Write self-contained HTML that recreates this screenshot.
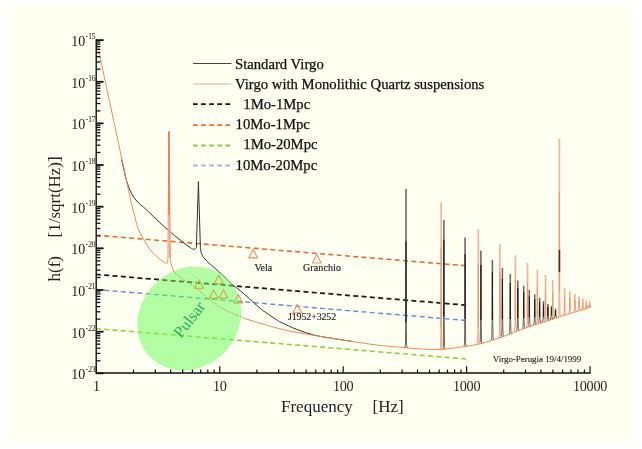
<!DOCTYPE html>
<html><head><meta charset="utf-8"><style>
html,body{margin:0;padding:0;background:#fff;width:642px;height:449px;overflow:hidden;}
svg{display:block;will-change:transform;}
</style></head><body>
<svg width="642" height="449" viewBox="0 0 642 449" xml:space="preserve">
<rect x="0" y="0" width="642" height="449" fill="#ffffff"/>
<rect x="7" y="5" width="626" height="437.5" fill="#fffff2"/>
<line x1="96" y1="274.4" x2="466.5" y2="305.2" stroke="#1a1a1a" stroke-width="1.75" stroke-dasharray="5 3.33" stroke-dashoffset="0.1"/>
<line x1="96" y1="235.2" x2="466.5" y2="265.8" stroke="#e26a36" stroke-width="1.55" stroke-dasharray="5 3.33" stroke-dashoffset="0.1"/>
<line x1="96" y1="328.6" x2="466.5" y2="359.0" stroke="#8ad23c" stroke-width="1.55" stroke-dasharray="5 3.33" stroke-dashoffset="0.1"/>
<line x1="96" y1="289.5" x2="466.5" y2="320.5" stroke="#5a8ee0" stroke-width="1.4" stroke-dasharray="5 3.33" stroke-dashoffset="0.1"/>
<path d="M121.6,159.5 C122.0,161.4 123.5,168.0 124.2,171.0 C124.9,174.0 125.0,175.4 125.6,177.5 C126.1,179.6 126.8,181.5 127.5,183.5 C128.2,185.5 128.9,187.5 129.8,189.6 C130.7,191.7 131.7,194.1 132.9,196.0 C134.1,197.9 135.5,199.5 136.8,201.0 C138.2,202.5 139.4,203.8 141.0,205.2 C142.6,206.6 143.8,207.3 146.2,209.5 C148.6,211.7 152.4,215.6 155.5,218.5 C158.6,221.4 161.6,224.4 164.8,227.2 C168.0,230.0 171.6,233.0 174.6,235.5 C177.6,238.0 180.6,240.4 183.0,242.3 C185.4,244.2 187.2,245.5 189.0,246.7 C190.8,247.9 192.5,249.2 193.7,249.3 C194.9,249.5 195.9,247.9 196.4,247.6" fill="none" stroke="#333" stroke-width="1"/>
<path d="M196.4,247.6 L198.4,181.5 L200.4,247.6" fill="none" stroke="#333" stroke-width="1"/>
<path d="M200.4,247.6 C200.5,248.4 200.8,251.2 201.2,252.7 C201.6,254.2 202.0,255.2 203.0,256.7 C204.0,258.1 205.7,259.9 207.1,261.4 C208.5,262.8 209.8,263.7 211.7,265.4 C213.6,267.1 216.2,269.4 218.4,271.4 C220.6,273.4 222.9,275.4 225.1,277.5 C227.3,279.6 229.2,282.1 231.8,284.3 C234.4,286.6 236.2,287.2 240.7,291.0 C245.1,294.8 254.3,303.3 258.5,306.9 C262.6,310.5 262.6,310.3 265.6,312.4 C268.6,314.5 273.7,317.9 276.3,319.6 C278.9,321.3 277.8,320.8 281.2,322.4 C284.6,324.0 291.5,327.4 296.7,329.4 C301.9,331.4 307.1,333.2 312.3,334.6 C317.5,336.0 325.3,337.3 327.9,337.8" fill="none" stroke="#333" stroke-width="1"/>
<path d="M327.9,337.6 C329.9,337.9 335.8,338.9 340.0,339.6 C344.2,340.3 351.2,341.3 353.4,341.6" fill="none" stroke="#333" stroke-width="1"/>
<path d="M404.70,348.09 L405.40,345.29 L405.70,322.37 L406.00,241.33 L406.30,322.37 L406.60,345.29 L407.30,348.09" fill="none" stroke="#666660" stroke-width="1.0" stroke-linejoin="round"/>
<line x1="406.00" y1="322.4" x2="406.00" y2="241.3" stroke="#1e1e1e" stroke-width="1.3"/>
<line x1="406.00" y1="188.9" x2="406.00" y2="241.3" stroke="#6a6a66" stroke-width="1.6"/>
<path d="M442.60,349.34 L443.30,346.54 L443.60,316.78 L443.90,239.36 L444.20,316.78 L444.50,346.54 L445.20,349.34" fill="none" stroke="#666660" stroke-width="1.0" stroke-linejoin="round"/>
<line x1="443.90" y1="316.8" x2="443.90" y2="239.4" stroke="#1e1e1e" stroke-width="1.3"/>
<line x1="443.90" y1="220.0" x2="443.90" y2="239.4" stroke="#6a6a66" stroke-width="1.6"/>
<path d="M463.80,346.60 L464.50,343.80 L464.80,319.10 L465.10,253.82 L465.40,319.10 L465.70,343.80 L466.40,346.60" fill="none" stroke="#666660" stroke-width="1.0" stroke-linejoin="round"/>
<line x1="465.10" y1="319.1" x2="465.10" y2="253.8" stroke="#1e1e1e" stroke-width="1.3"/>
<line x1="465.10" y1="237.5" x2="465.10" y2="253.8" stroke="#6a6a66" stroke-width="1.6"/>
<path d="M479.60,343.76 L480.30,340.96 L480.60,320.22 L480.90,264.44 L481.20,320.22 L481.50,340.96 L482.20,343.76" fill="none" stroke="#666660" stroke-width="1.0" stroke-linejoin="round"/>
<line x1="480.90" y1="320.2" x2="480.90" y2="264.4" stroke="#1e1e1e" stroke-width="1.3"/>
<line x1="480.90" y1="250.5" x2="480.90" y2="264.4" stroke="#6a6a66" stroke-width="1.6"/>
<path d="M491.10,340.19 L491.80,337.39 L492.10,319.91 L492.40,271.98 L492.70,319.91 L493.00,337.39 L493.70,340.19" fill="none" stroke="#666660" stroke-width="1.0" stroke-linejoin="round"/>
<line x1="492.40" y1="319.9" x2="492.40" y2="272.0" stroke="#1e1e1e" stroke-width="1.3"/>
<line x1="492.40" y1="260.0" x2="492.40" y2="272.0" stroke="#6a6a66" stroke-width="1.6"/>
<path d="M501.10,337.07 L501.80,334.27 L502.10,319.61 L502.40,278.40 L502.70,319.61 L503.00,334.27 L503.70,337.07" fill="none" stroke="#666660" stroke-width="1.0" stroke-linejoin="round"/>
<line x1="502.40" y1="319.6" x2="502.40" y2="278.4" stroke="#1e1e1e" stroke-width="1.3"/>
<line x1="502.40" y1="268.1" x2="502.40" y2="278.4" stroke="#6a6a66" stroke-width="1.6"/>
<path d="M509.00,334.12 L509.70,331.32 L510.00,318.86 L510.30,282.97 L510.60,318.86 L510.90,331.32 L511.60,334.12" fill="none" stroke="#666660" stroke-width="1.0" stroke-linejoin="round"/>
<line x1="510.30" y1="318.9" x2="510.30" y2="283.0" stroke="#1e1e1e" stroke-width="1.3"/>
<line x1="510.30" y1="274.0" x2="510.30" y2="283.0" stroke="#6a6a66" stroke-width="1.6"/>
<path d="M516.50,331.23 L517.20,328.43 L517.50,318.30 L517.80,287.98 L518.10,318.30 L518.40,328.43 L519.10,331.23" fill="none" stroke="#666660" stroke-width="1.0" stroke-linejoin="round"/>
<line x1="517.80" y1="318.3" x2="517.80" y2="288.0" stroke="#1e1e1e" stroke-width="1.3"/>
<line x1="517.80" y1="280.4" x2="517.80" y2="288.0" stroke="#6a6a66" stroke-width="1.6"/>
<path d="M522.40,328.96 L523.10,326.16 L523.40,317.89 L523.70,292.06 L524.00,317.89 L524.30,326.16 L525.00,328.96" fill="none" stroke="#666660" stroke-width="1.0" stroke-linejoin="round"/>
<line x1="523.70" y1="317.9" x2="523.70" y2="292.1" stroke="#1e1e1e" stroke-width="1.3"/>
<line x1="523.70" y1="285.6" x2="523.70" y2="292.1" stroke="#6a6a66" stroke-width="1.6"/>
<path d="M528.00,327.01 L528.70,324.21 L529.00,317.56 L529.30,295.59 L529.60,317.56 L529.90,324.21 L530.60,327.01" fill="none" stroke="#666660" stroke-width="1.0" stroke-linejoin="round"/>
<line x1="529.30" y1="317.6" x2="529.30" y2="295.6" stroke="#1e1e1e" stroke-width="1.3"/>
<line x1="529.30" y1="290.1" x2="529.30" y2="295.6" stroke="#6a6a66" stroke-width="1.6"/>
<path d="M533.40,325.23 L534.10,322.43 L534.40,317.27 L534.70,298.89 L535.00,317.27 L535.30,322.43 L536.00,325.23" fill="none" stroke="#666660" stroke-width="1.0" stroke-linejoin="round"/>
<line x1="534.70" y1="317.3" x2="534.70" y2="298.9" stroke="#1e1e1e" stroke-width="1.3"/>
<line x1="534.70" y1="294.3" x2="534.70" y2="298.9" stroke="#6a6a66" stroke-width="1.6"/>
<path d="M538.30,323.61 L539.00,320.81 L539.30,316.93 L539.60,301.63 L539.90,316.93 L540.20,320.81 L540.90,323.61" fill="none" stroke="#666660" stroke-width="1.0" stroke-linejoin="round"/>
<line x1="539.60" y1="316.9" x2="539.60" y2="301.6" stroke="#1e1e1e" stroke-width="1.3"/>
<line x1="539.60" y1="297.8" x2="539.60" y2="301.6" stroke="#6a6a66" stroke-width="1.6"/>
<path d="M542.20,322.32 L542.90,319.52 L543.20,316.82 L543.50,304.32 L543.80,316.82 L544.10,319.52 L544.80,322.32" fill="none" stroke="#666660" stroke-width="1.0" stroke-linejoin="round"/>
<line x1="543.50" y1="316.8" x2="543.50" y2="304.3" stroke="#1e1e1e" stroke-width="1.3"/>
<line x1="543.50" y1="301.2" x2="543.50" y2="304.3" stroke="#6a6a66" stroke-width="1.6"/>
<path d="M546.60,320.88 L547.30,318.08 L547.60,316.43 L547.90,306.49 L548.20,316.43 L548.50,318.08 L549.20,320.88" fill="none" stroke="#666660" stroke-width="1.0" stroke-linejoin="round"/>
<line x1="547.90" y1="316.4" x2="547.90" y2="306.5" stroke="#1e1e1e" stroke-width="1.3"/>
<line x1="547.90" y1="304.0" x2="547.90" y2="306.5" stroke="#6a6a66" stroke-width="1.6"/>
<path d="M550.20,319.72 L550.90,316.92 L551.20,316.07 L551.50,308.01 L551.80,316.07 L552.10,316.92 L552.80,319.72" fill="none" stroke="#666660" stroke-width="1.0" stroke-linejoin="round"/>
<line x1="551.50" y1="316.1" x2="551.50" y2="308.0" stroke="#1e1e1e" stroke-width="1.3"/>
<line x1="551.50" y1="306.0" x2="551.50" y2="308.0" stroke="#6a6a66" stroke-width="1.6"/>
<path d="M554.20,318.44 L554.90,315.64 L555.20,315.73 L555.50,309.95 L555.80,315.73 L556.10,315.64 L556.80,318.44" fill="none" stroke="#666660" stroke-width="1.0" stroke-linejoin="round"/>
<line x1="555.50" y1="315.7" x2="555.50" y2="309.9" stroke="#1e1e1e" stroke-width="1.3"/>
<line x1="555.50" y1="308.5" x2="555.50" y2="309.9" stroke="#6a6a66" stroke-width="1.6"/>
<path d="M96.4,40.0 C99.1,52.7 108.4,96.1 112.7,116.0 C117.0,135.9 120.0,150.3 122.0,159.5 C124.0,168.7 123.8,167.6 124.5,171.0 C125.2,174.4 125.8,177.0 126.4,180.0 C127.0,183.0 127.5,185.8 128.2,189.0 C128.9,192.2 129.7,195.9 130.5,199.5 C131.3,203.1 132.5,207.2 133.3,210.5 C134.1,213.8 134.7,216.3 135.5,219.5 C136.3,222.7 137.2,226.4 138.4,229.5 C139.6,232.6 141.4,235.5 142.8,238.0 C144.2,240.5 145.3,242.3 146.6,244.4 C147.9,246.5 148.8,248.2 150.6,250.3 C152.4,252.4 155.0,254.9 157.2,256.9 C159.4,258.9 162.3,261.1 163.9,262.2 C165.5,263.3 166.2,263.3 166.6,263.5" fill="none" stroke="#ec8c58" stroke-width="1"/>
<path d="M166.6,263.5 Q167.7,263.6 167.9,259 L168.9,131.3 L170.5,262" fill="none" stroke="#f0a080" stroke-width="1.1"/>
<line x1="168.95" y1="131.5" x2="169.1" y2="215" stroke="#ea7a44" stroke-width="1.6"/>
<line x1="169.1" y1="215" x2="169.3" y2="258" stroke="#f0a078" stroke-width="1.2"/>
<path d="M170.4,262.0 C170.6,262.7 171.3,264.5 171.8,266.0 C172.3,267.5 173.1,270.2 173.4,271.0" fill="none" stroke="#ec8c58" stroke-width="1"/>
<path d="M242.1,317.5 C243.4,317.9 246.1,319.0 250.0,320.2 C253.9,321.4 260.4,323.4 265.6,324.9 C270.8,326.4 276.0,327.9 281.2,329.1 C286.4,330.4 291.5,331.4 296.7,332.4 C301.9,333.4 307.1,334.3 312.3,335.2 C317.5,336.1 325.3,337.2 327.9,337.6" fill="none" stroke="#ec8c58" stroke-width="1"/>
<path d="M327.9,337.6 C329.9,337.9 335.8,338.9 340.0,339.6 C344.2,340.3 347.3,340.7 353.4,341.6 C359.5,342.5 368.1,344.0 376.7,345.0 C385.3,346.0 397.0,347.0 404.8,347.7 C412.6,348.4 417.7,348.8 423.5,349.1 C429.3,349.4 434.0,349.8 439.8,349.5 C445.6,349.2 451.9,348.3 458.5,347.4 C465.1,346.5 472.0,345.7 479.5,343.9 C487.0,342.1 496.0,339.0 503.6,336.4 C511.2,333.8 518.1,330.6 525.4,328.0 C532.7,325.4 540.7,322.9 547.2,320.8 C553.8,318.7 557.6,317.4 564.7,315.2 C571.8,313.0 585.5,308.9 589.7,307.6" fill="none" stroke="#ec8c58" stroke-width="1"/>
<path d="M439.90,349.64 L440.60,346.84 L440.90,327.32 L441.20,246.55 L441.50,327.32 L441.80,346.84 L442.50,349.64" fill="none" stroke="#f0a482" stroke-width="1.0" stroke-linejoin="round"/>
<line x1="441.20" y1="327.3" x2="441.20" y2="246.6" stroke="#ee9a70" stroke-width="1.4"/>
<line x1="441.20" y1="202.5" x2="441.20" y2="246.6" stroke="#f4b296" stroke-width="1.7"/>
<path d="M477.00,344.40 L477.70,341.60 L478.00,326.83 L478.30,263.53 L478.60,326.83 L478.90,341.60 L479.60,344.40" fill="none" stroke="#f0a482" stroke-width="1.0" stroke-linejoin="round"/>
<line x1="478.30" y1="326.8" x2="478.30" y2="263.5" stroke="#ee9a70" stroke-width="1.4"/>
<line x1="478.30" y1="229.0" x2="478.30" y2="263.5" stroke="#f4b296" stroke-width="1.7"/>
<path d="M498.50,337.88 L499.20,335.08 L499.50,323.59 L499.80,272.28 L500.10,323.59 L500.40,335.08 L501.10,337.88" fill="none" stroke="#f0a482" stroke-width="1.0" stroke-linejoin="round"/>
<line x1="499.80" y1="323.6" x2="499.80" y2="272.3" stroke="#ee9a70" stroke-width="1.4"/>
<line x1="499.80" y1="244.3" x2="499.80" y2="272.3" stroke="#f4b296" stroke-width="1.7"/>
<path d="M514.10,332.15 L514.80,329.35 L515.10,320.34 L515.40,278.13 L515.70,320.34 L516.00,329.35 L516.70,332.15" fill="none" stroke="#f0a482" stroke-width="1.0" stroke-linejoin="round"/>
<line x1="515.40" y1="320.3" x2="515.40" y2="278.1" stroke="#ee9a70" stroke-width="1.4"/>
<line x1="515.40" y1="255.1" x2="515.40" y2="278.1" stroke="#f4b296" stroke-width="1.7"/>
<path d="M526.20,327.61 L526.90,324.81 L527.20,317.68 L527.50,282.36 L527.80,317.68 L528.10,324.81 L528.80,327.61" fill="none" stroke="#f0a482" stroke-width="1.0" stroke-linejoin="round"/>
<line x1="527.50" y1="317.7" x2="527.50" y2="282.4" stroke="#ee9a70" stroke-width="1.4"/>
<line x1="527.50" y1="263.1" x2="527.50" y2="282.4" stroke="#f4b296" stroke-width="1.7"/>
<path d="M536.10,324.34 L536.80,321.54 L537.10,315.89 L537.40,286.00 L537.70,315.89 L538.00,321.54 L538.70,324.34" fill="none" stroke="#f0a482" stroke-width="1.0" stroke-linejoin="round"/>
<line x1="537.40" y1="315.9" x2="537.40" y2="286.0" stroke="#ee9a70" stroke-width="1.4"/>
<line x1="537.40" y1="269.7" x2="537.40" y2="286.0" stroke="#f4b296" stroke-width="1.7"/>
<path d="M544.20,321.66 L544.90,318.86 L545.20,314.41 L545.50,288.91 L545.80,314.41 L546.10,318.86 L546.80,321.66" fill="none" stroke="#f0a482" stroke-width="1.0" stroke-linejoin="round"/>
<line x1="545.50" y1="314.4" x2="545.50" y2="288.9" stroke="#ee9a70" stroke-width="1.4"/>
<line x1="545.50" y1="275.0" x2="545.50" y2="288.9" stroke="#f4b296" stroke-width="1.7"/>
<path d="M551.40,319.34 L552.10,316.54 L552.40,313.18 L552.70,291.71 L553.00,313.18 L553.30,316.54 L554.00,319.34" fill="none" stroke="#f0a482" stroke-width="1.0" stroke-linejoin="round"/>
<line x1="552.70" y1="313.2" x2="552.70" y2="291.7" stroke="#ee9a70" stroke-width="1.4"/>
<line x1="552.70" y1="280.0" x2="552.70" y2="291.7" stroke="#f4b296" stroke-width="1.7"/>
<path d="M558.10,317.20 L558.80,314.40 L559.10,290.18 L559.40,192.23 L559.70,290.18 L560.00,314.40 L560.70,317.20" fill="none" stroke="#f0a482" stroke-width="1.0" stroke-linejoin="round"/>
<line x1="559.40" y1="290.2" x2="559.40" y2="192.2" stroke="#ee9a70" stroke-width="1.4"/>
<line x1="559.40" y1="138.8" x2="559.40" y2="192.2" stroke="#f4b296" stroke-width="1.7"/>
<path d="M563.30,315.53 L564.00,312.73 L564.30,311.18 L564.60,296.31 L564.90,311.18 L565.20,312.73 L565.90,315.53" fill="none" stroke="#f0a482" stroke-width="1.0" stroke-linejoin="round"/>
<line x1="564.60" y1="311.2" x2="564.60" y2="296.3" stroke="#ee9a70" stroke-width="1.4"/>
<line x1="564.60" y1="288.2" x2="564.60" y2="296.3" stroke="#f4b296" stroke-width="1.7"/>
<path d="M568.50,313.95 L569.20,311.15 L569.50,310.30 L569.80,298.00 L570.10,310.30 L570.40,311.15 L571.10,313.95" fill="none" stroke="#f0a482" stroke-width="1.0" stroke-linejoin="round"/>
<line x1="569.80" y1="310.3" x2="569.80" y2="298.0" stroke="#ee9a70" stroke-width="1.4"/>
<line x1="569.80" y1="291.3" x2="569.80" y2="298.0" stroke="#f4b296" stroke-width="1.7"/>
<path d="M573.60,312.40 L574.30,309.60 L574.60,309.40 L574.90,299.50 L575.20,309.40 L575.50,309.60 L576.20,312.40" fill="none" stroke="#f0a482" stroke-width="1.0" stroke-linejoin="round"/>
<line x1="574.90" y1="309.4" x2="574.90" y2="299.5" stroke="#ee9a70" stroke-width="1.4"/>
<line x1="574.90" y1="294.1" x2="574.90" y2="299.5" stroke="#f4b296" stroke-width="1.7"/>
<path d="M577.80,311.12 L578.50,308.32 L578.80,308.67 L579.10,300.80 L579.40,308.67 L579.70,308.32 L580.40,311.12" fill="none" stroke="#f0a482" stroke-width="1.0" stroke-linejoin="round"/>
<line x1="579.10" y1="308.7" x2="579.10" y2="300.8" stroke="#ee9a70" stroke-width="1.4"/>
<line x1="579.10" y1="296.5" x2="579.10" y2="300.8" stroke="#f4b296" stroke-width="1.7"/>
<path d="M581.40,310.03 L582.10,307.23 L582.40,308.06 L582.70,301.94 L583.00,308.06 L583.30,307.23 L584.00,310.03" fill="none" stroke="#f0a482" stroke-width="1.0" stroke-linejoin="round"/>
<line x1="582.70" y1="308.1" x2="582.70" y2="301.9" stroke="#ee9a70" stroke-width="1.4"/>
<line x1="582.70" y1="298.6" x2="582.70" y2="301.9" stroke="#f4b296" stroke-width="1.7"/>
<path d="M585.10,308.90 L585.80,306.10 L586.10,307.34 L586.40,302.72 L586.70,307.34 L587.00,306.10 L587.70,308.90" fill="none" stroke="#f0a482" stroke-width="1.0" stroke-linejoin="round"/>
<line x1="586.40" y1="307.3" x2="586.40" y2="302.7" stroke="#ee9a70" stroke-width="1.4"/>
<line x1="586.40" y1="300.2" x2="586.40" y2="302.7" stroke="#f4b296" stroke-width="1.7"/>
<path d="M588.30,307.93 L589.00,305.13 L589.30,306.65 L589.60,303.06 L589.90,306.65 L590.20,305.13 L590.90,307.93" fill="none" stroke="#f0a482" stroke-width="1.0" stroke-linejoin="round"/>
<line x1="589.60" y1="306.7" x2="589.60" y2="303.1" stroke="#ee9a70" stroke-width="1.4"/>
<line x1="589.60" y1="301.1" x2="589.60" y2="303.1" stroke="#f4b296" stroke-width="1.7"/>
<line x1="559.4" y1="250" x2="559.4" y2="272" stroke="#5a2a10" stroke-width="1.6"/>
<path d="M199.0,279.8 L194.6,288.3 L203.4,288.3 Z" fill="none" stroke="#ea9266" stroke-width="1.1" stroke-linejoin="round"/>
<path d="M218.8,275.1 L214.4,283.6 L223.2,283.6 Z" fill="none" stroke="#ea9266" stroke-width="1.1" stroke-linejoin="round"/>
<path d="M213.6,289.8 L209.2,298.3 L218.0,298.3 Z" fill="none" stroke="#ea9266" stroke-width="1.1" stroke-linejoin="round"/>
<path d="M223.4,289.8 L219.0,298.3 L227.8,298.3 Z" fill="none" stroke="#ea9266" stroke-width="1.1" stroke-linejoin="round"/>
<path d="M238.4,294.4 L234.0,302.9 L242.8,302.9 Z" fill="none" stroke="#ea9266" stroke-width="1.1" stroke-linejoin="round"/>
<path d="M253.2,249.4 L248.8,257.9 L257.6,257.9 Z" fill="none" stroke="#ea9266" stroke-width="1.1" stroke-linejoin="round"/>
<path d="M316.8,254.5 L312.4,263.0 L321.2,263.0 Z" fill="none" stroke="#ea9266" stroke-width="1.1" stroke-linejoin="round"/>
<path d="M297.3,304.2 L292.9,312.7 L301.7,312.7 Z" fill="none" stroke="#ea9266" stroke-width="1.1" stroke-linejoin="round"/>
<defs><clipPath id="ec"><ellipse cx="189.3" cy="318.4" rx="55" ry="48.8" transform="rotate(-45 189.3 318.4)"/></clipPath></defs>
<ellipse cx="189.3" cy="318.4" rx="55" ry="48.8" transform="rotate(-45 189.3 318.4)" fill="#67fd52" fill-opacity="0.5"/>
<path d="M173.4,271.0 C174.5,272.1 177.2,275.4 180.0,277.5 C182.8,279.6 186.8,281.2 190.0,283.5 C193.2,285.8 196.1,288.2 199.4,291.0 C202.7,293.8 206.0,297.0 210.0,300.0 C214.0,303.0 218.9,306.4 223.4,308.9 C227.9,311.4 233.7,313.7 236.8,315.1 C239.9,316.5 241.2,317.1 242.1,317.5" fill="none" stroke="#b89048" stroke-width="1.1" stroke-dasharray="1.1 1.7"/>
<g clip-path="url(#ec)">
<path d="M199.0,279.8 L194.6,288.3 L203.4,288.3 Z" fill="none" stroke="#d2b050" stroke-width="1.0" stroke-linejoin="round"/>
<path d="M218.8,275.1 L214.4,283.6 L223.2,283.6 Z" fill="none" stroke="#d2b050" stroke-width="1.0" stroke-linejoin="round"/>
<path d="M213.6,289.8 L209.2,298.3 L218.0,298.3 Z" fill="none" stroke="#d2b050" stroke-width="1.0" stroke-linejoin="round"/>
<path d="M223.4,289.8 L219.0,298.3 L227.8,298.3 Z" fill="none" stroke="#d2b050" stroke-width="1.0" stroke-linejoin="round"/>
<path d="M238.4,294.4 L234.0,302.9 L242.8,302.9 Z" fill="none" stroke="#d2b050" stroke-width="1.0" stroke-linejoin="round"/>
<path d="M253.2,249.4 L248.8,257.9 L257.6,257.9 Z" fill="none" stroke="#d2b050" stroke-width="1.0" stroke-linejoin="round"/>
<path d="M316.8,254.5 L312.4,263.0 L321.2,263.0 Z" fill="none" stroke="#d2b050" stroke-width="1.0" stroke-linejoin="round"/>
<path d="M297.3,304.2 L292.9,312.7 L301.7,312.7 Z" fill="none" stroke="#d2b050" stroke-width="1.0" stroke-linejoin="round"/>
</g>
<text x="0" y="0" transform="translate(180.9,338.8) rotate(-52)" font-family="Liberation Serif" font-size="16.3" fill="#2aae5a">Pulsar</text>
<line x1="96.2" y1="39.2" x2="96.2" y2="373.7" stroke="#111" stroke-width="1.4"/>
<line x1="95.8" y1="373" x2="590.6" y2="373" stroke="#111" stroke-width="1.5"/>
<line x1="96" y1="40.1" x2="103.6" y2="40.1" stroke="#111" stroke-width="1.8"/>
<line x1="96" y1="69.2" x2="100.4" y2="69.2" stroke="#111" stroke-width="1.3"/>
<line x1="96" y1="61.9" x2="100.4" y2="61.9" stroke="#111" stroke-width="1.3"/>
<line x1="96" y1="56.7" x2="100.4" y2="56.7" stroke="#111" stroke-width="1.3"/>
<line x1="96" y1="52.6" x2="100.4" y2="52.6" stroke="#111" stroke-width="1.3"/>
<line x1="96" y1="49.3" x2="100.4" y2="49.3" stroke="#111" stroke-width="1.3"/>
<line x1="96" y1="46.6" x2="100.4" y2="46.6" stroke="#111" stroke-width="1.3"/>
<line x1="96" y1="44.1" x2="100.4" y2="44.1" stroke="#111" stroke-width="1.3"/>
<line x1="96" y1="42.0" x2="100.4" y2="42.0" stroke="#111" stroke-width="1.3"/>
<text x="85.3" y="46.1" text-anchor="end" font-family="Liberation Serif" font-size="14" fill="#1a1a1a">10</text>
<text x="85.6" y="38.9" font-family="Liberation Serif" font-size="8.2" fill="#222" letter-spacing="-0.4">-15</text>
<line x1="96" y1="81.8" x2="103.6" y2="81.8" stroke="#111" stroke-width="1.8"/>
<line x1="96" y1="110.9" x2="100.4" y2="110.9" stroke="#111" stroke-width="1.3"/>
<line x1="96" y1="103.5" x2="100.4" y2="103.5" stroke="#111" stroke-width="1.3"/>
<line x1="96" y1="98.3" x2="100.4" y2="98.3" stroke="#111" stroke-width="1.3"/>
<line x1="96" y1="94.3" x2="100.4" y2="94.3" stroke="#111" stroke-width="1.3"/>
<line x1="96" y1="91.0" x2="100.4" y2="91.0" stroke="#111" stroke-width="1.3"/>
<line x1="96" y1="88.2" x2="100.4" y2="88.2" stroke="#111" stroke-width="1.3"/>
<line x1="96" y1="85.8" x2="100.4" y2="85.8" stroke="#111" stroke-width="1.3"/>
<line x1="96" y1="83.7" x2="100.4" y2="83.7" stroke="#111" stroke-width="1.3"/>
<text x="85.3" y="87.8" text-anchor="end" font-family="Liberation Serif" font-size="14" fill="#1a1a1a">10</text>
<text x="85.6" y="80.5" font-family="Liberation Serif" font-size="8.2" fill="#222" letter-spacing="-0.4">-16</text>
<line x1="96" y1="123.4" x2="103.6" y2="123.4" stroke="#111" stroke-width="1.8"/>
<line x1="96" y1="152.5" x2="100.4" y2="152.5" stroke="#111" stroke-width="1.3"/>
<line x1="96" y1="145.2" x2="100.4" y2="145.2" stroke="#111" stroke-width="1.3"/>
<line x1="96" y1="140.0" x2="100.4" y2="140.0" stroke="#111" stroke-width="1.3"/>
<line x1="96" y1="135.9" x2="100.4" y2="135.9" stroke="#111" stroke-width="1.3"/>
<line x1="96" y1="132.6" x2="100.4" y2="132.6" stroke="#111" stroke-width="1.3"/>
<line x1="96" y1="129.9" x2="100.4" y2="129.9" stroke="#111" stroke-width="1.3"/>
<line x1="96" y1="127.4" x2="100.4" y2="127.4" stroke="#111" stroke-width="1.3"/>
<line x1="96" y1="125.3" x2="100.4" y2="125.3" stroke="#111" stroke-width="1.3"/>
<text x="85.3" y="129.4" text-anchor="end" font-family="Liberation Serif" font-size="14" fill="#1a1a1a">10</text>
<text x="85.6" y="122.2" font-family="Liberation Serif" font-size="8.2" fill="#222" letter-spacing="-0.4">-17</text>
<line x1="96" y1="165.0" x2="103.6" y2="165.0" stroke="#111" stroke-width="1.8"/>
<line x1="96" y1="194.2" x2="100.4" y2="194.2" stroke="#111" stroke-width="1.3"/>
<line x1="96" y1="186.8" x2="100.4" y2="186.8" stroke="#111" stroke-width="1.3"/>
<line x1="96" y1="181.6" x2="100.4" y2="181.6" stroke="#111" stroke-width="1.3"/>
<line x1="96" y1="177.6" x2="100.4" y2="177.6" stroke="#111" stroke-width="1.3"/>
<line x1="96" y1="174.3" x2="100.4" y2="174.3" stroke="#111" stroke-width="1.3"/>
<line x1="96" y1="171.5" x2="100.4" y2="171.5" stroke="#111" stroke-width="1.3"/>
<line x1="96" y1="169.1" x2="100.4" y2="169.1" stroke="#111" stroke-width="1.3"/>
<line x1="96" y1="167.0" x2="100.4" y2="167.0" stroke="#111" stroke-width="1.3"/>
<text x="85.3" y="171.0" text-anchor="end" font-family="Liberation Serif" font-size="14" fill="#1a1a1a">10</text>
<text x="85.6" y="163.8" font-family="Liberation Serif" font-size="8.2" fill="#222" letter-spacing="-0.4">-18</text>
<line x1="96" y1="206.7" x2="103.6" y2="206.7" stroke="#111" stroke-width="1.8"/>
<line x1="96" y1="235.8" x2="100.4" y2="235.8" stroke="#111" stroke-width="1.3"/>
<line x1="96" y1="228.5" x2="100.4" y2="228.5" stroke="#111" stroke-width="1.3"/>
<line x1="96" y1="223.3" x2="100.4" y2="223.3" stroke="#111" stroke-width="1.3"/>
<line x1="96" y1="219.2" x2="100.4" y2="219.2" stroke="#111" stroke-width="1.3"/>
<line x1="96" y1="215.9" x2="100.4" y2="215.9" stroke="#111" stroke-width="1.3"/>
<line x1="96" y1="213.2" x2="100.4" y2="213.2" stroke="#111" stroke-width="1.3"/>
<line x1="96" y1="210.7" x2="100.4" y2="210.7" stroke="#111" stroke-width="1.3"/>
<line x1="96" y1="208.6" x2="100.4" y2="208.6" stroke="#111" stroke-width="1.3"/>
<text x="85.3" y="212.7" text-anchor="end" font-family="Liberation Serif" font-size="14" fill="#1a1a1a">10</text>
<text x="85.6" y="205.5" font-family="Liberation Serif" font-size="8.2" fill="#222" letter-spacing="-0.4">-19</text>
<line x1="96" y1="248.3" x2="103.6" y2="248.3" stroke="#111" stroke-width="1.8"/>
<line x1="96" y1="277.5" x2="100.4" y2="277.5" stroke="#111" stroke-width="1.3"/>
<line x1="96" y1="270.1" x2="100.4" y2="270.1" stroke="#111" stroke-width="1.3"/>
<line x1="96" y1="264.9" x2="100.4" y2="264.9" stroke="#111" stroke-width="1.3"/>
<line x1="96" y1="260.9" x2="100.4" y2="260.9" stroke="#111" stroke-width="1.3"/>
<line x1="96" y1="257.6" x2="100.4" y2="257.6" stroke="#111" stroke-width="1.3"/>
<line x1="96" y1="254.8" x2="100.4" y2="254.8" stroke="#111" stroke-width="1.3"/>
<line x1="96" y1="252.4" x2="100.4" y2="252.4" stroke="#111" stroke-width="1.3"/>
<line x1="96" y1="250.3" x2="100.4" y2="250.3" stroke="#111" stroke-width="1.3"/>
<text x="85.3" y="254.3" text-anchor="end" font-family="Liberation Serif" font-size="14" fill="#1a1a1a">10</text>
<text x="85.6" y="247.2" font-family="Liberation Serif" font-size="8.2" fill="#222" letter-spacing="-0.4">-20</text>
<line x1="96" y1="290.0" x2="103.6" y2="290.0" stroke="#111" stroke-width="1.8"/>
<line x1="96" y1="319.1" x2="100.4" y2="319.1" stroke="#111" stroke-width="1.3"/>
<line x1="96" y1="311.8" x2="100.4" y2="311.8" stroke="#111" stroke-width="1.3"/>
<line x1="96" y1="306.6" x2="100.4" y2="306.6" stroke="#111" stroke-width="1.3"/>
<line x1="96" y1="302.5" x2="100.4" y2="302.5" stroke="#111" stroke-width="1.3"/>
<line x1="96" y1="299.2" x2="100.4" y2="299.2" stroke="#111" stroke-width="1.3"/>
<line x1="96" y1="296.5" x2="100.4" y2="296.5" stroke="#111" stroke-width="1.3"/>
<line x1="96" y1="294.0" x2="100.4" y2="294.0" stroke="#111" stroke-width="1.3"/>
<line x1="96" y1="291.9" x2="100.4" y2="291.9" stroke="#111" stroke-width="1.3"/>
<text x="85.3" y="296.0" text-anchor="end" font-family="Liberation Serif" font-size="14" fill="#1a1a1a">10</text>
<text x="85.6" y="288.8" font-family="Liberation Serif" font-size="8.2" fill="#222" letter-spacing="-0.4">-21</text>
<line x1="96" y1="331.7" x2="103.6" y2="331.7" stroke="#111" stroke-width="1.8"/>
<line x1="96" y1="360.8" x2="100.4" y2="360.8" stroke="#111" stroke-width="1.3"/>
<line x1="96" y1="353.4" x2="100.4" y2="353.4" stroke="#111" stroke-width="1.3"/>
<line x1="96" y1="348.2" x2="100.4" y2="348.2" stroke="#111" stroke-width="1.3"/>
<line x1="96" y1="344.2" x2="100.4" y2="344.2" stroke="#111" stroke-width="1.3"/>
<line x1="96" y1="340.9" x2="100.4" y2="340.9" stroke="#111" stroke-width="1.3"/>
<line x1="96" y1="338.1" x2="100.4" y2="338.1" stroke="#111" stroke-width="1.3"/>
<line x1="96" y1="335.7" x2="100.4" y2="335.7" stroke="#111" stroke-width="1.3"/>
<line x1="96" y1="333.6" x2="100.4" y2="333.6" stroke="#111" stroke-width="1.3"/>
<text x="85.3" y="337.7" text-anchor="end" font-family="Liberation Serif" font-size="14" fill="#1a1a1a">10</text>
<text x="85.6" y="330.5" font-family="Liberation Serif" font-size="8.2" fill="#222" letter-spacing="-0.4">-22</text>
<line x1="96" y1="373.3" x2="103.6" y2="373.3" stroke="#111" stroke-width="1.8"/>
<text x="85.3" y="379.3" text-anchor="end" font-family="Liberation Serif" font-size="14" fill="#1a1a1a">10</text>
<text x="85.6" y="372.1" font-family="Liberation Serif" font-size="8.2" fill="#222" letter-spacing="-0.4">-23</text>
<line x1="96.4" y1="373" x2="96.4" y2="366.2" stroke="#111" stroke-width="1.2"/>
<line x1="133.5" y1="373" x2="133.5" y2="369.6" stroke="#111" stroke-width="1.2"/>
<line x1="155.3" y1="373" x2="155.3" y2="369.6" stroke="#111" stroke-width="1.2"/>
<line x1="170.7" y1="373" x2="170.7" y2="369.6" stroke="#111" stroke-width="1.2"/>
<line x1="182.7" y1="373" x2="182.7" y2="369.6" stroke="#111" stroke-width="1.2"/>
<line x1="192.4" y1="373" x2="192.4" y2="369.6" stroke="#111" stroke-width="1.2"/>
<line x1="200.7" y1="373" x2="200.7" y2="369.6" stroke="#111" stroke-width="1.2"/>
<line x1="207.8" y1="373" x2="207.8" y2="369.6" stroke="#111" stroke-width="1.2"/>
<line x1="214.2" y1="373" x2="214.2" y2="369.6" stroke="#111" stroke-width="1.2"/>
<text x="96.4" y="390.7" text-anchor="middle" font-family="Liberation Serif" font-size="14.2" fill="#222" letter-spacing="-0.25">1</text>
<line x1="219.8" y1="373" x2="219.8" y2="366.2" stroke="#111" stroke-width="1.2"/>
<line x1="256.9" y1="373" x2="256.9" y2="369.6" stroke="#111" stroke-width="1.2"/>
<line x1="278.7" y1="373" x2="278.7" y2="369.6" stroke="#111" stroke-width="1.2"/>
<line x1="294.1" y1="373" x2="294.1" y2="369.6" stroke="#111" stroke-width="1.2"/>
<line x1="306.1" y1="373" x2="306.1" y2="369.6" stroke="#111" stroke-width="1.2"/>
<line x1="315.8" y1="373" x2="315.8" y2="369.6" stroke="#111" stroke-width="1.2"/>
<line x1="324.1" y1="373" x2="324.1" y2="369.6" stroke="#111" stroke-width="1.2"/>
<line x1="331.2" y1="373" x2="331.2" y2="369.6" stroke="#111" stroke-width="1.2"/>
<line x1="337.6" y1="373" x2="337.6" y2="369.6" stroke="#111" stroke-width="1.2"/>
<text x="219.8" y="390.7" text-anchor="middle" font-family="Liberation Serif" font-size="14.2" fill="#222" letter-spacing="-0.25">10</text>
<line x1="343.2" y1="373" x2="343.2" y2="366.2" stroke="#111" stroke-width="1.2"/>
<line x1="380.3" y1="373" x2="380.3" y2="369.6" stroke="#111" stroke-width="1.2"/>
<line x1="402.1" y1="373" x2="402.1" y2="369.6" stroke="#111" stroke-width="1.2"/>
<line x1="417.5" y1="373" x2="417.5" y2="369.6" stroke="#111" stroke-width="1.2"/>
<line x1="429.5" y1="373" x2="429.5" y2="369.6" stroke="#111" stroke-width="1.2"/>
<line x1="439.2" y1="373" x2="439.2" y2="369.6" stroke="#111" stroke-width="1.2"/>
<line x1="447.5" y1="373" x2="447.5" y2="369.6" stroke="#111" stroke-width="1.2"/>
<line x1="454.6" y1="373" x2="454.6" y2="369.6" stroke="#111" stroke-width="1.2"/>
<line x1="461.0" y1="373" x2="461.0" y2="369.6" stroke="#111" stroke-width="1.2"/>
<text x="343.2" y="390.7" text-anchor="middle" font-family="Liberation Serif" font-size="14.2" fill="#222" letter-spacing="-0.25">100</text>
<line x1="466.6" y1="373" x2="466.6" y2="366.2" stroke="#111" stroke-width="1.2"/>
<line x1="503.7" y1="373" x2="503.7" y2="369.6" stroke="#111" stroke-width="1.2"/>
<line x1="525.5" y1="373" x2="525.5" y2="369.6" stroke="#111" stroke-width="1.2"/>
<line x1="540.9" y1="373" x2="540.9" y2="369.6" stroke="#111" stroke-width="1.2"/>
<line x1="552.9" y1="373" x2="552.9" y2="369.6" stroke="#111" stroke-width="1.2"/>
<line x1="562.6" y1="373" x2="562.6" y2="369.6" stroke="#111" stroke-width="1.2"/>
<line x1="570.9" y1="373" x2="570.9" y2="369.6" stroke="#111" stroke-width="1.2"/>
<line x1="578.0" y1="373" x2="578.0" y2="369.6" stroke="#111" stroke-width="1.2"/>
<line x1="584.4" y1="373" x2="584.4" y2="369.6" stroke="#111" stroke-width="1.2"/>
<text x="466.6" y="390.7" text-anchor="middle" font-family="Liberation Serif" font-size="14.2" fill="#222" letter-spacing="-0.25">1000</text>
<line x1="590.0" y1="373" x2="590.0" y2="366.2" stroke="#111" stroke-width="1.2"/>
<text x="590.0" y="390.7" text-anchor="middle" font-family="Liberation Serif" font-size="14.2" fill="#222" letter-spacing="-0.25">10000</text>
<text x="281" y="411.5" font-family="Liberation Serif" font-size="17" fill="#222">Frequency</text>
<text x="372.5" y="411.5" font-family="Liberation Serif" font-size="17" fill="#222">[Hz]</text>
<text transform="translate(60.2,281.5) rotate(-90)" font-family="Liberation Serif" font-size="17" fill="#222">h(f)</text>
<text transform="translate(60.2,237.5) rotate(-90)" font-family="Liberation Serif" font-size="17" fill="#222">[1/sqrt(Hz)]</text>
<line x1="193" y1="63.5" x2="231.5" y2="63.5" stroke="#444" stroke-width="1.0"/>
<text x="235.0" y="68.7" font-family="Liberation Serif" font-size="14.7" fill="#111" stroke="#111" stroke-width="0.25">Standard Virgo</text>
<line x1="193" y1="84.0" x2="231.5" y2="84.0" stroke="#f2c6b2" stroke-width="1.7"/>
<text x="235.0" y="88.6" font-family="Liberation Serif" font-size="14.7" fill="#111" stroke="#111" stroke-width="0.25">Virgo with Monolithic Quartz suspensions</text>
<line x1="193" y1="104.1" x2="231.5" y2="104.1" stroke="#111" stroke-width="1.8" stroke-dasharray="4.7 3.4"/>
<text x="243.3" y="109.2" font-family="Liberation Serif" font-size="14.7" fill="#111" stroke="#111" stroke-width="0.25">1Mo-1Mpc</text>
<line x1="193" y1="125.2" x2="231.5" y2="125.2" stroke="#e4733e" stroke-width="1.8" stroke-dasharray="4.7 3.4"/>
<text x="235.6" y="129.3" font-family="Liberation Serif" font-size="14.7" fill="#111" stroke="#111" stroke-width="0.25">10Mo-1Mpc</text>
<line x1="193" y1="145.5" x2="231.5" y2="145.5" stroke="#8ccc44" stroke-width="1.8" stroke-dasharray="4.7 3.4"/>
<text x="243.3" y="149.4" font-family="Liberation Serif" font-size="14.7" fill="#111" stroke="#111" stroke-width="0.25">1Mo-20Mpc</text>
<line x1="193" y1="165.5" x2="231.5" y2="165.5" stroke="#a4b4e4" stroke-width="1.8" stroke-dasharray="4.7 3.4"/>
<text x="235.6" y="170.2" font-family="Liberation Serif" font-size="14.7" fill="#111" stroke="#111" stroke-width="0.25">10Mo-20Mpc</text>
<text x="254.5" y="270.7" font-family="Liberation Serif" font-size="10" fill="#222" stroke="#222" stroke-width="0.15">Vela</text>
<text x="303" y="270.7" font-family="Liberation Serif" font-size="10" fill="#222" stroke="#222" stroke-width="0.15" letter-spacing="0.1">Granchio</text>
<text x="288" y="320" font-family="Liberation Serif" font-size="10" fill="#222" stroke="#222" stroke-width="0.12" letter-spacing="-0.15">J1952+3252</text>
<text x="492.8" y="362.1" font-family="Liberation Serif" font-size="9" fill="#222" stroke="#222" stroke-width="0.12" letter-spacing="-0.05">Virgo-Perugia 19/4/1999</text>
</svg>
</body></html>
